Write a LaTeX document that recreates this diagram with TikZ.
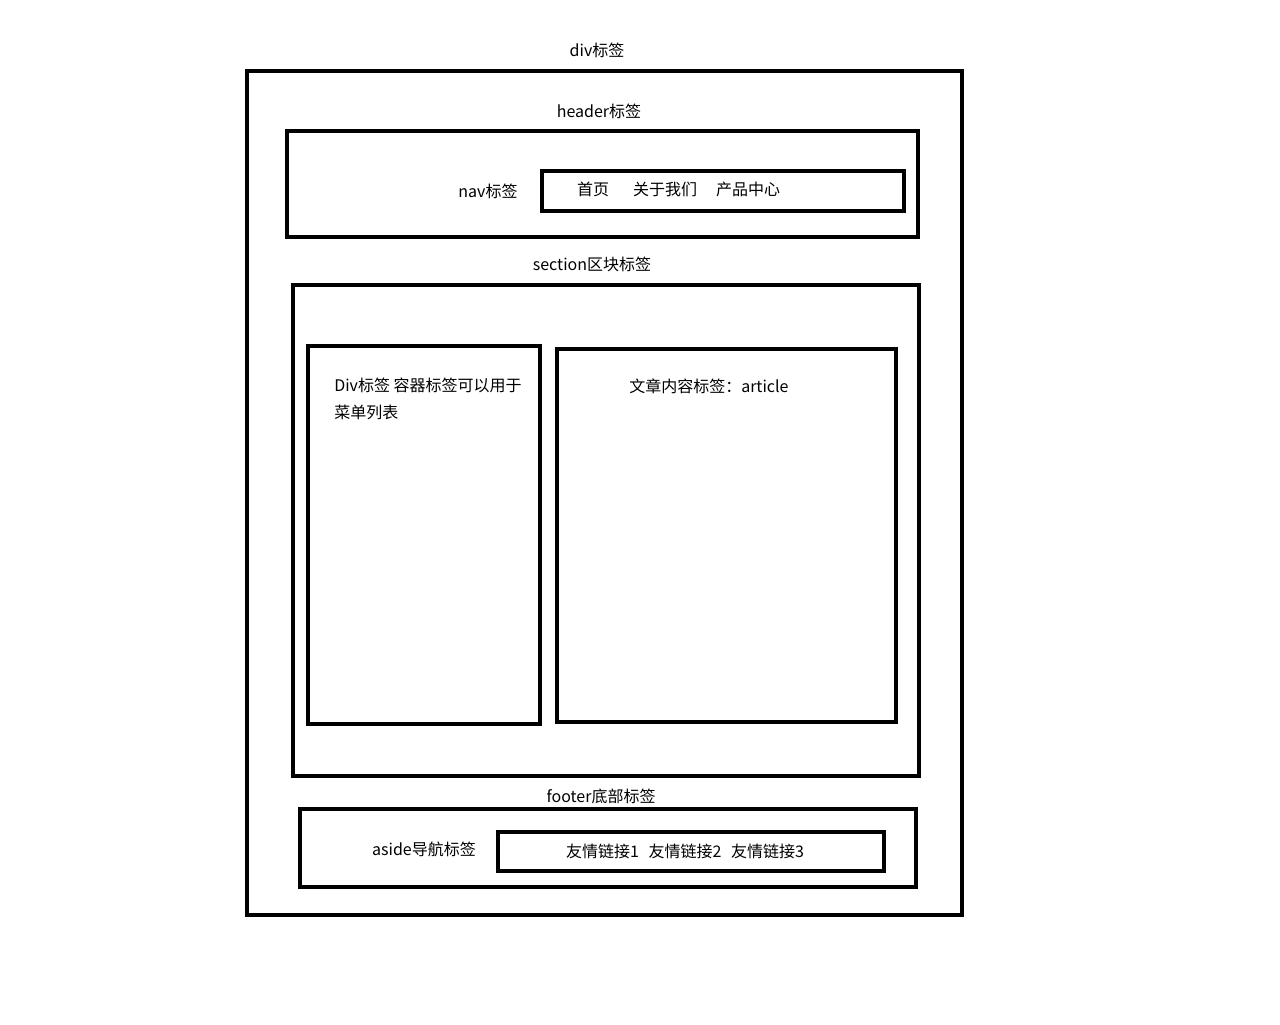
\documentclass[tikz,border=0pt]{standalone}
\usepackage{fontspec}
\setmainfont{Noto Sans CJK SC}
\usetikzlibrary{fit}
\begin{document}
\begin{tikzpicture}[x=0.75pt,y=-0.75pt,
  box/.style={draw=black,line width=2.5pt,inner sep=0pt,rectangle},
  lbl/.style={inner sep=0pt,font=\fontsize{12}{14}\selectfont,text=black}]
\useasboundingbox[fill=white] (0,0) rectangle (1280,1024);
\node[box,fit={(247,71)(962,915)}] (outer) {};
\node[box,fit={(287,131)(918,237)}] (header) {};
\node[box,fit={(542,171)(904,211)}] (nav) {};
\node[box,fit={(293,285)(919,776)}] (section) {};
\node[box,fit={(308,346)(540,724)}] (menu) {};
\node[box,fit={(557,349)(896,722)}] (article) {};
\node[box,fit={(300,809)(916,887)}] (footer) {};
\node[box,fit={(498,832)(884,871)}] (links) {};
\node[lbl] (tdiv) at (597,50) {div标签};
\node[lbl] (theader) at (599,111) {header标签};
\node[lbl] (tnav) at (488,191) {nav标签};
\node[lbl] (t1) at (593,189) {首页};
\node[lbl] (t2) at (665,189) {关于我们};
\node[lbl] (t3) at (748,189) {产品中心};
\node[lbl] (tsection) at (592,264) {section区块标签};
\node[lbl,anchor=west] (tmenu1) at (334,385) {Div标签 容器标签可以用于};
\node[lbl,anchor=west] (tmenu2) at (334,412) {菜单列表};
\node[lbl,anchor=west] (tarticle) at (629,386) {文章内容标签：article};
\node[lbl] (tfooter) at (601,796) {footer底部标签};
\node[lbl] (taside) at (424,849) {aside导航标签};
\node[lbl] (tlinks) at (685,851) {友情链接1\hspace{0.6em}友情链接2\hspace{0.6em}友情链接3};
\end{tikzpicture}
\end{document}
